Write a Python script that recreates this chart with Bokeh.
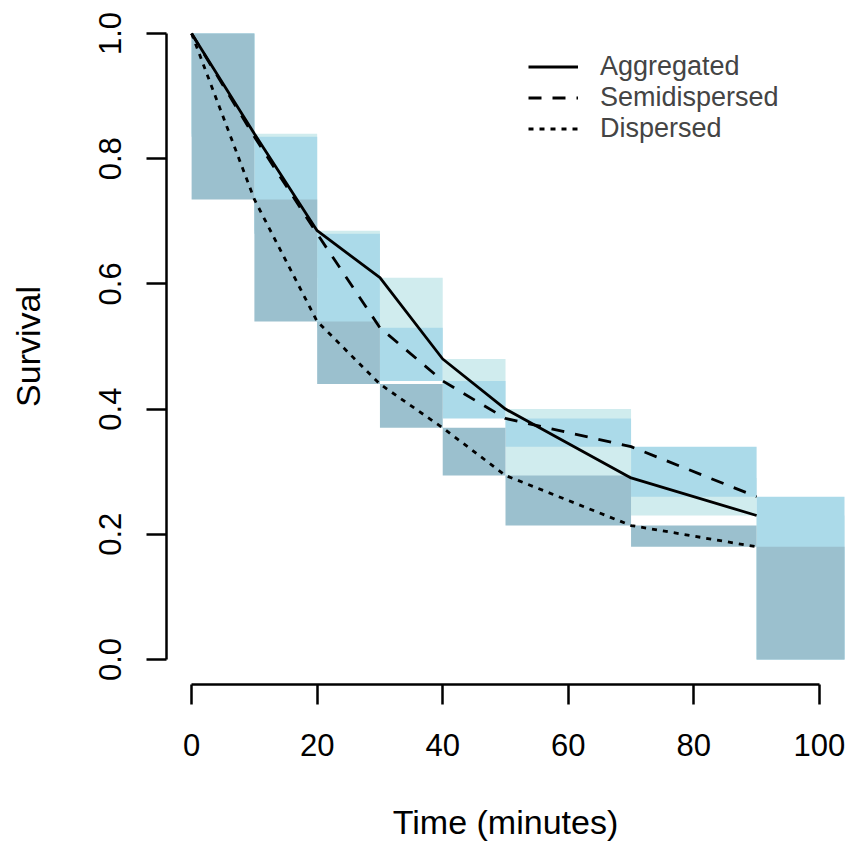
from bokeh.plotting import figure
from bokeh.models import Range1d, FixedTicker, PrintfTickFormatter, Legend, LegendItem
from bokeh.embed import file_html
from bokeh.resources import INLINE

# ---- data ----
times = [0, 10, 20, 30, 40, 50, 70, 90]
end_time = 110          # right edge of the last interval (clipped at plot edge)
end_survival = 0.0      # survival after the last interval
aggregated = [1.0, 0.84, 0.685, 0.61, 0.48, 0.40, 0.29, 0.23]
semidispersed = [1.0, 0.835, 0.68, 0.53, 0.445, 0.385, 0.34, 0.26]
dispersed = [1.0, 0.735, 0.54, 0.44, 0.37, 0.294, 0.214, 0.18]
series_names = ["Aggregated", "Semidispersed", "Dispersed"]
x_ticks = [0, 20, 40, 60, 80, 100]
y_ticks = [0.0, 0.2, 0.4, 0.6, 0.8, 1.0]

# ---- styles ----
band_colors = ["#D0ECEE", "#ABDAE9", "#9BC0CE"]
line_dashes = ["solid", "13 11", "5 6"]
FONT = "Liberation Sans"

p = figure(width=848, height=843,
           x_range=Range1d(-4, 104), y_range=Range1d(-0.04, 1.04),
           output_backend="svg", toolbar_location=None,
           min_border_left=166, min_border_right=4,
           min_border_top=8, min_border_bottom=159)
p.outline_line_color = None
p.xgrid.visible = False
p.ygrid.visible = False
p.background_fill_color = "white"
p.border_fill_color = "white"

all_series = [aggregated, semidispersed, dispersed]

# step rectangles for each series: interval [t_i, t_{i+1}] spans s_i .. s_{i+1}
for s, col in zip(all_series, band_colors):
    p.quad(left=times, right=times[1:] + [end_time],
           top=s, bottom=s[1:] + [end_survival],
           fill_color=col, line_color=None)

renderers = []
for s, dash in zip(all_series, line_dashes):
    r = p.line(times, s, line_color="black", line_width=2.8, line_dash=dash)
    renderers.append(r)

legend = Legend(items=[LegendItem(label=n, renderers=[r]) for n, r in zip(series_names, renderers)],
                location=(362, 540), orientation="vertical",
                border_line_color=None, background_fill_alpha=0,
                label_text_font=FONT, label_text_font_size="27px",
                glyph_width=50, glyph_height=31, label_height=31,
                label_standoff=22, padding=0, margin=0, spacing=0)
p.add_layout(legend)

for ax in (p.xaxis[0], p.yaxis[0]):
    ax.axis_line_width = 2.5
    ax.major_tick_line_width = 2.5
    ax.major_tick_out = 20
    ax.major_tick_in = 0
    ax.minor_tick_line_color = None
    ax.major_label_text_font = FONT
    ax.major_label_text_font_size = "31px"
    ax.major_label_text_color = "black"
    ax.axis_label_text_font = FONT
    ax.axis_label_text_font_size = "34px"
    ax.axis_label_text_font_style = "normal"
    ax.axis_label_text_color = "black"

p.xaxis.ticker = FixedTicker(ticks=x_ticks)
p.xaxis.bounds = (0, 100)
p.xaxis.axis_label = "Time (minutes)"
p.xaxis.major_label_standoff = 29
p.xaxis.axis_label_standoff = 44

p.yaxis.ticker = FixedTicker(ticks=y_ticks)
p.yaxis.formatter = PrintfTickFormatter(format="%.1f")
p.yaxis.bounds = (0, 1)
p.yaxis.axis_label = "Survival"
p.yaxis.major_label_orientation = "parallel"
p.yaxis.major_label_standoff = 25
p.yaxis.axis_label_standoff = 50

open("out.html", "w").write(file_html(p, INLINE))
